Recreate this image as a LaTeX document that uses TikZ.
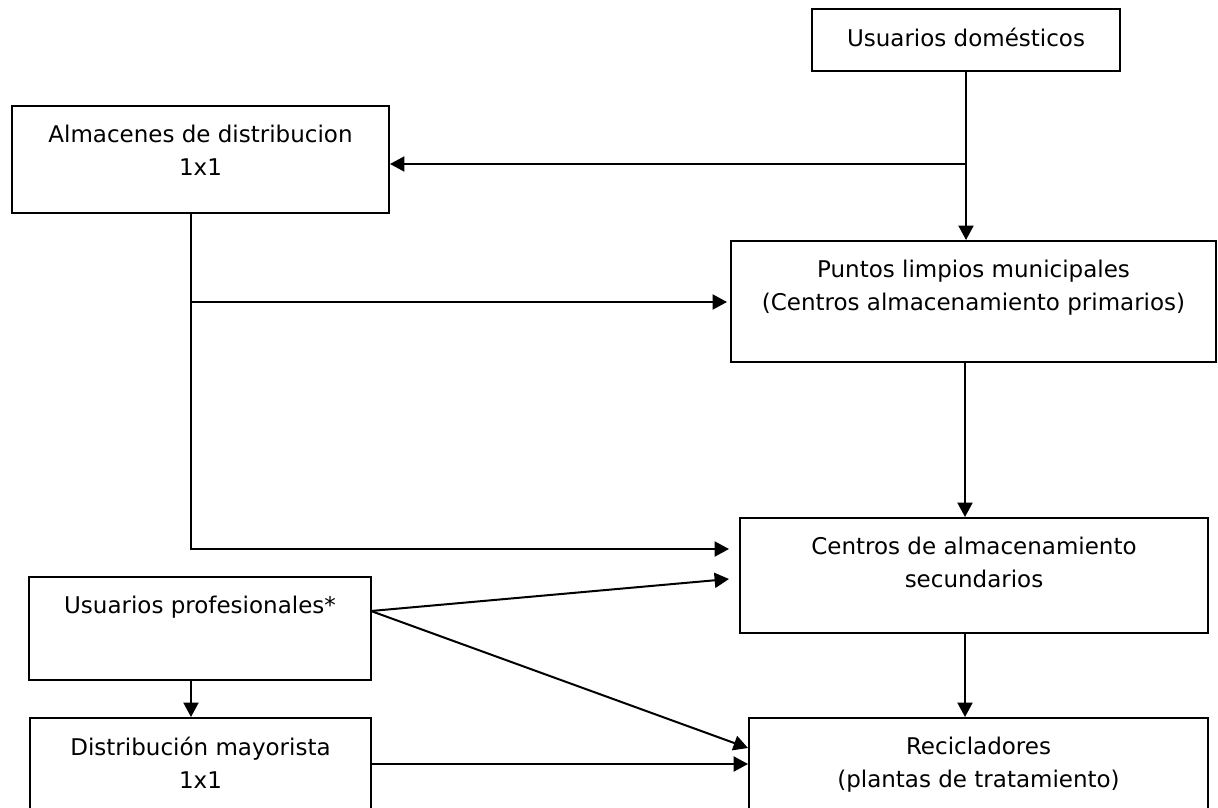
\documentclass[tikz,border=0pt]{standalone}
\usepackage{fontspec}
\setmainfont{DejaVu Sans}
\usetikzlibrary{arrows.meta,positioning,calc}

\begin{document}
\begin{tikzpicture}[x=0.5pt,y=-0.5pt,
  recbox/.style={draw,line width=1pt,inner sep=0pt},
  rectext/.style={inner sep=0pt,align=center,font=\fontsize{11.5}{16.5}\selectfont},
  recarr/.style={-{Triangle[length=7.2pt,width=7.5pt]},line width=1pt}
]
  \useasboundingbox (0,0) rectangle (1218,807);
  \clip (0,0) rectangle (1218,807);
  % boxes
  \node[recbox,minimum width=154pt,minimum height=31pt] (dom) at (966,40) {};
  \node[recbox,minimum width=188.5pt,minimum height=53.5pt] (alm) at (200.5,159.5) {};
  \node[recbox,minimum width=242.5pt,minimum height=60.5pt] (pun) at (973.5,301.5) {};
  \node[recbox,minimum width=234pt,minimum height=57.5pt] (cen) at (974,575.5) {};
  \node[recbox,minimum width=171pt,minimum height=51.5pt] (pro) at (200,628.5) {};
  \node[recbox,minimum width=170.5pt,minimum height=61pt] (may) at (200.5,779) {};
  \node[recbox,minimum width=229.5pt,minimum height=61pt] (rcl) at (978.5,779) {};
  % texts
  \node[rectext,below=10pt of dom.north] (domt) {Usuarios domésticos};
  \node[rectext,below=10pt of alm.north] (almt) {Almacenes de distribucion\\1x1};
  \node[rectext,below=10pt of pun.north] (punt) {Puntos limpios municipales\\(Centros almacenamiento primarios)};
  \node[rectext,below=10pt of cen.north] (cent) {Centros de almacenamiento\\secundarios};
  \node[rectext,below=10pt of pro.north] (prot) {Usuarios profesionales*};
  \node[rectext,below=10pt of may.north] (mayt) {Distribución mayorista\\1x1};
  \node[rectext,below=10pt of rcl.north] (rclt) {Recicladores\\(plantas de tratamiento)};
  % connectors
  \coordinate (domsplit) at (966,164);
  \coordinate (almdrop) at (191,213);
  \coordinate (almsplit) at (191,302);
  \coordinate (proout) at (371,611);
  \draw[recarr] (dom.south) -- (dom.south |- pun.north);
  \draw[recarr] (domsplit) -- (domsplit -| alm.east);
  \draw[recarr] (almdrop) |- ([xshift=-5pt]cen.west |- 0,549);
  \draw[recarr,shorten >=1.5pt] (almsplit) -- (almsplit -| pun.west);
  \draw[recarr] (pun.south -| 965,0) -- (cen.north -| 965,0);
  \draw[recarr] (cen.south -| 965,0) -- (rcl.north -| 965,0);
  \draw[recarr] (proout) -- ([xshift=-5pt]cen.west |- 0,579);
  \draw[recarr] (proout) -- (rcl.west |- 0,748);
  \draw[recarr] (pro.south -| 191,0) -- (may.north -| 191,0);
  \draw[recarr] (may.east |- 0,764) -- (rcl.west |- 0,764);
\end{tikzpicture}
\end{document}
